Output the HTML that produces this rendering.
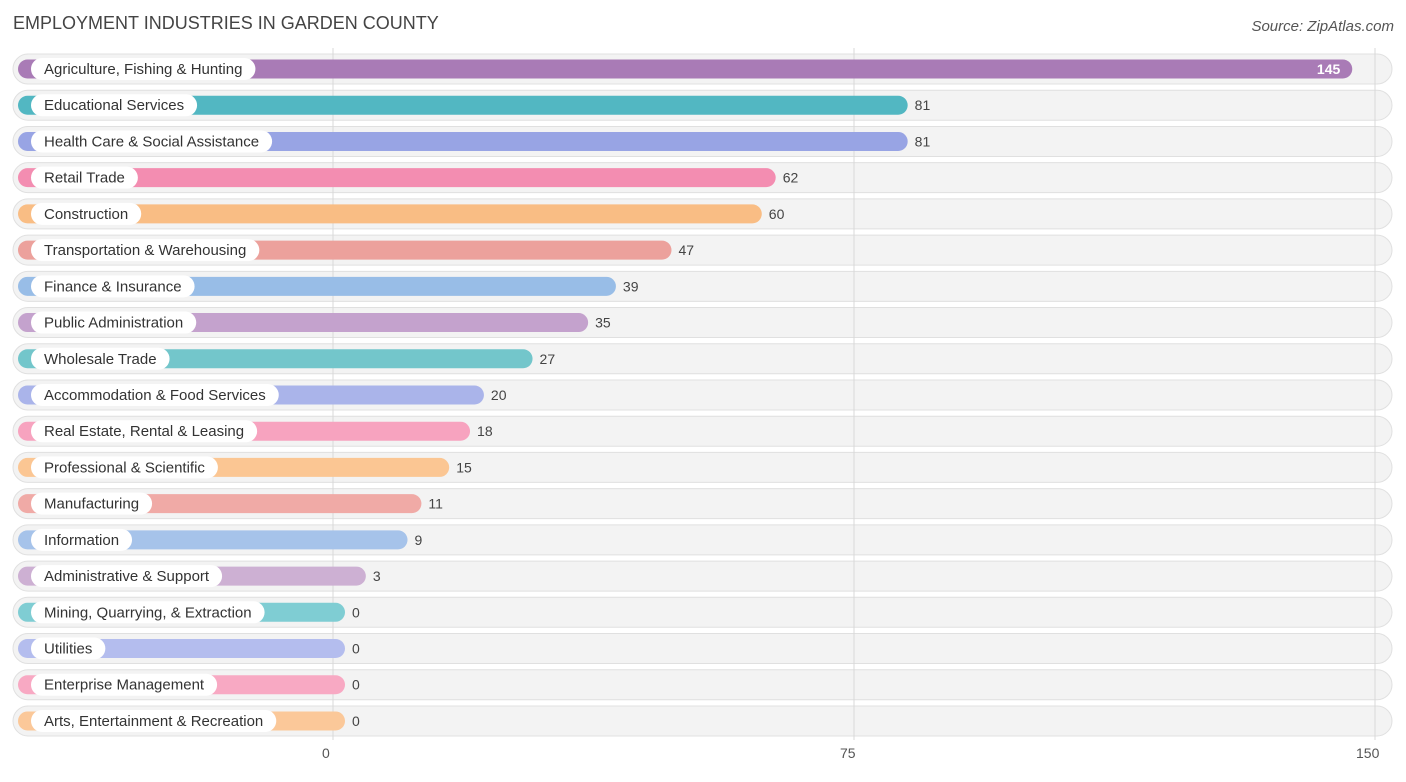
<!DOCTYPE html>
<html><head><meta charset="utf-8"><style>
body{margin:0;background:#fff;font-family:"Liberation Sans",sans-serif;}
</style></head><body>
<svg id="chart" width="1406" height="777" xmlns="http://www.w3.org/2000/svg">
<text x="13" y="29" font-size="18" fill="#444" font-family="Liberation Sans, sans-serif">EMPLOYMENT INDUSTRIES IN GARDEN COUNTY</text>
<text x="1394" y="31" font-size="15" fill="#555" font-style="italic" text-anchor="end" font-family="Liberation Sans, sans-serif">Source: ZipAtlas.com</text>
<g id="rows"></g>
</svg>
<script>
const categories=["Agriculture, Fishing & Hunting","Educational Services","Health Care & Social Assistance","Retail Trade","Construction","Transportation & Warehousing","Finance & Insurance","Public Administration","Wholesale Trade","Accommodation & Food Services","Real Estate, Rental & Leasing","Professional & Scientific","Manufacturing","Information","Administrative & Support","Mining, Quarrying, & Extraction","Utilities","Enterprise Management","Arts, Entertainment & Recreation"];
const values=[145,81,81,62,60,47,39,35,27,20,18,15,11,9,3,0,0,0,0];
const tickValues=[0,75,150];
const colors=["#a97bb6","#52b7c2","#98a4e4","#f38db1","#f9bd84","#eca19c","#98bde7","#c4a2cd","#73c6cb","#aab4ea","#f7a3bf","#fbc693","#f0aaa6","#a6c3ea","#cdb0d3","#7fcdd3","#b4bdee","#f8a9c3","#fbc899"];
const NS="http://www.w3.org/2000/svg";
const svg=document.getElementById('chart');const g=document.getElementById('rows');
const x=v=>333+v*(1375-333)/150;
const y0=69,dy=36.22;
function mk(t,a,p){const e=document.createElementNS(NS,t);for(const k in a)e.setAttribute(k,a[k]);(p||g).appendChild(e);return e;}
categories.forEach((c,i)=>{const cy=y0+i*dy;
 const bg=mk('rect',{x:13,y:cy-15,width:1379,height:30,rx:15,fill:'#f3f3f3',stroke:'#e0e0e0','stroke-width':1});
 
 
});
tickValues.forEach(t=>{
 const l=mk('line',{x1:x(t),x2:x(t),y1:48,y2:740,stroke:'#d8d8d8','stroke-width':1});
 
 
 const tx=mk('text',{x:x(t)+(t===0?-11:t===150?-19:-14),y:758,'font-size':14,fill:'#555'});
 
 
 tx.textContent=t;
});
const meas=mk('text',{x:-1000,y:-1000,'font-size':15});
categories.forEach((c,i)=>{const cy=y0+i*dy;const v=values[i];
 const end=x(v)+12;
 const b=mk('rect',{x:18,y:cy-9.5,width:end-18,height:19,rx:9.5,fill:colors[i]});
 
 
 meas.textContent=c;const w=meas.getComputedTextLength();
 const p=mk('rect',{x:31,y:cy-11,width:w+26,height:22,rx:11,fill:'#fff'});
 
 
 const t=mk('text',{x:44,y:cy+5,'font-size':15,fill:'#333'});
 
 
 t.textContent=c;
 const inside=v>120;
 const vt=mk('text',{x:inside?end-12:end+7,y:cy+5,'font-size':14,fill:inside?'#fff':'#444','text-anchor':inside?'end':'start','font-weight':inside?'bold':'normal'});
 
 
 vt.textContent=v;
});
meas.remove();
</script>
</body></html>
